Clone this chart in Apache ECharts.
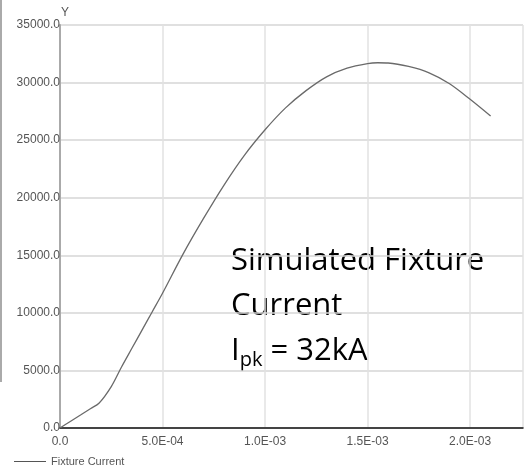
<!DOCTYPE html>
<html><head><meta charset="utf-8">
<script src="https://cdn.jsdelivr.net/npm/echarts@6/dist/echarts.min.js"></script>
<style>html,body{margin:0;padding:0;background:#fff}#c{width:526px;height:469px}</style>
</head><body><div id="c"></div>
<script>
// Time (s)
const times = [0, 0.5e-4, 1.0e-4, 1.5e-4, 1.9e-4, 2.5e-4, 3.0e-4, 3.5e-4, 4.0e-4, 4.5e-4, 5.0e-4, 6.0e-4, 7.0e-4, 8.0e-4, 9.0e-4, 1.0e-3, 1.1e-3, 1.2e-3, 1.3e-3, 1.4e-3, 1.5e-3, 1.55e-3, 1.6e-3, 1.7e-3, 1.8e-3, 1.9e-3, 2.0e-3, 2.1e-3];
// Fixture current (A)
const current = [0, 570, 1130, 1700, 2150, 3600, 5300, 6900, 8500, 10100, 11700, 15100, 18200, 21100, 23700, 25900, 27800, 29300, 30500, 31250, 31650, 31720, 31700, 31400, 30850, 29900, 28550, 27100];
const seriesName = 'Fixture Current';
const yTicks = [0, 5000, 10000, 15000, 20000, 25000, 30000, 35000];
const xTicks = [0, 5e-4, 1e-3, 1.5e-3, 2e-3];

const chart = echarts.init(document.getElementById('c'));
const labelFont = '"Liberation Sans", Arial, sans-serif';
const noteFont = '"Open Sans", sans-serif';
chart.setOption({
  animation: false,
  grid: {left: 60, top: 25, right: 0, bottom: 41},
  legend: {
    left: 9, top: 451, itemWidth: 32, itemHeight: 1, icon: 'rect', itemGap: 6,
    textStyle: {fontFamily: labelFont, fontSize: 11, color: '#555'},
    data: [seriesName]
  },
  xAxis: {
    type: 'value', min: 0, max: 2.258e-3, interval: 5e-4,
    axisLine: {lineStyle: {color: '#111', width: 1.5}},
    axisTick: {show: false},
    splitLine: {lineStyle: {color: '#e2e2e2', width: 1.5}},
    axisLabel: {
      fontFamily: labelFont, fontSize: 12, color: '#555', margin: 8,
      formatter: v => {
        const t = xTicks.find(k => Math.abs(k - v) < 1e-9);
        if (t === undefined) return '';
        return t === 0 ? '0.0' : t.toExponential(1).toUpperCase().replace(/E-(\d)$/, 'E-0$1');
      }
    }
  },
  yAxis: {
    type: 'value', min: 0, max: 35000, interval: 5000,
    name: 'Y', nameGap: 5,
    nameTextStyle: {fontFamily: labelFont, fontSize: 12, color: '#555', align: 'left', padding: [0,0,0,1]},
    axisLine: {show: true, lineStyle: {color: '#aaa', width: 2}},
    axisTick: {show: false},
    splitLine: {lineStyle: {color: '#d6d6d6', width: 1.5}},
    axisLabel: {
      fontFamily: labelFont, fontSize: 12, color: '#555', margin: 0,
      formatter: v => yTicks.includes(v) ? v.toFixed(1) : ''
    }
  },
  series: [{
    name: seriesName, type: 'line', showSymbol: false, smooth: 0.3,
    data: times.map((t, i) => [t, current[i]]),
    lineStyle: {color: '#6a6a6a', width: 1.3},
    itemStyle: {color: '#555'}
  }],
  graphic: [
    {type: 'rect', shape: {x: 0, y: 0, width: 2, height: 382}, style: {fill: '#aaa'}, silent: true},
    {type: 'text', left: 231, top: 239, style: {
      text: 'Simulated Fixture\nCurrent\n{m|I}{s|pk}{m| = 32kA}',
      font: '31px ' + noteFont, fill: '#000', lineHeight: 45,
      rich: {
        m: {fontSize: 31, fontFamily: noteFont, fill: '#000', lineHeight: 45},
        s: {fontSize: 20, fontFamily: noteFont, fill: '#000', lineHeight: 45, padding: [17, 0, 0, 0]}
      }
    }}
  ]
});
</script></body></html>
